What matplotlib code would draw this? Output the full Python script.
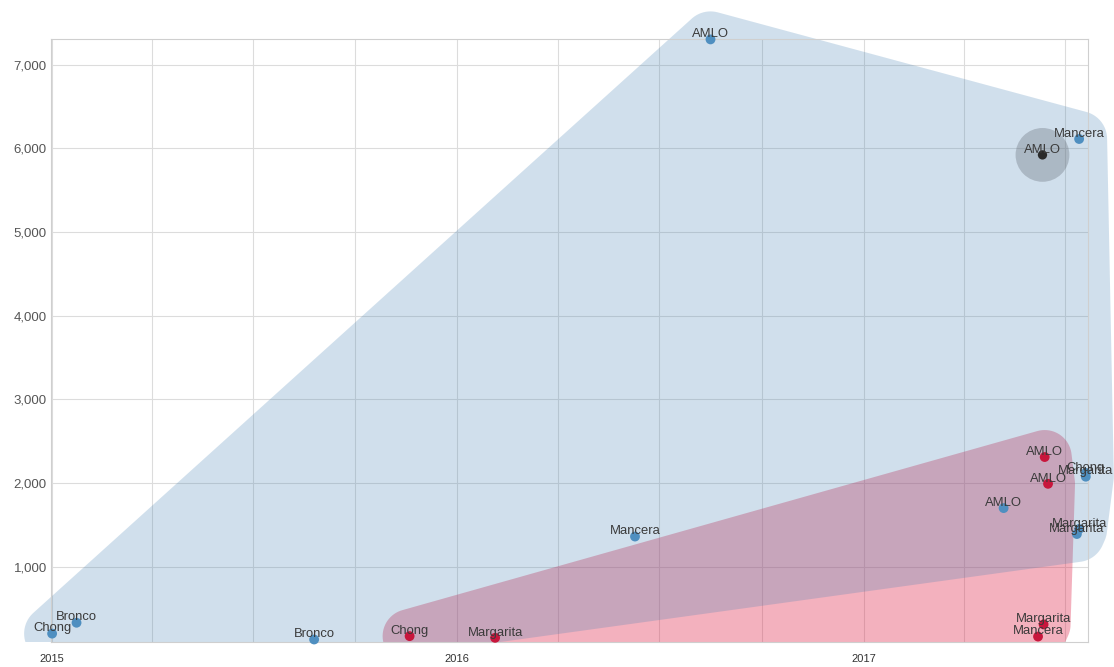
import numpy as np
import matplotlib
matplotlib.use("Agg")
import matplotlib.pyplot as plt
import matplotlib.dates as mdates
from matplotlib.patches import Polygon, Rectangle
from matplotlib.ticker import FuncFormatter, MultipleLocator

# ---------------- data ----------------
blue_names = ["Chong", "Bronco", "Bronco", "Mancera", "AMLO", "AMLO",
              "Chong", "Margarita", "Margarita", "Margarita", "Mancera"]
blue_dates = ["2015-01-01", "2015-01-23", "2015-08-25", "2016-06-09", "2016-08-16",
              "2017-05-07", "2017-07-20", "2017-07-20", "2017-07-14", "2017-07-12",
              "2017-07-14"]
blue_values = [200, 330, 130, 1360, 7300, 1700, 2120, 2075, 1450, 1390, 6110]

red_names = ["Chong", "Margarita", "AMLO", "AMLO", "Margarita", "Mancera"]
red_dates = ["2015-11-19", "2016-02-04", "2017-06-13", "2017-06-16",
             "2017-06-12", "2017-06-07"]
red_values = [170, 150, 2310, 1990, 310, 165]

highlight_name = "AMLO"
highlight_date = "2017-06-11"
highlight_value = 5920

y_ticks = [1000, 2000, 3000, 4000, 5000, 6000, 7000]

# ---------------- figure ----------------
W, H = 1114, 667
fig = plt.figure(figsize=(W / 100, H / 100), dpi=100)
ax_left, ax_right, ax_bottom_px, ax_top_px = 51, 1088, 642, 39.4
ax = fig.add_axes([ax_left / W, (H - ax_bottom_px) / H,
                   (ax_right - ax_left) / W, (ax_bottom_px - ax_top_px) / H])

to_num = lambda ds: mdates.date2num(np.array(ds, dtype="datetime64[D]"))
bx, by = to_num(blue_dates), np.array(blue_values, float)
rx, ry = to_num(red_dates), np.array(red_values, float)
hx = to_num([highlight_date])[0]

ax.set_xlim(to_num(["2014-12-31"])[0], to_num(["2017-07-22"])[0])
ax.set_ylim(100, 7300)

# grid / axes styling
ax.set_axisbelow(True)
ax.xaxis.set_major_locator(mdates.YearLocator())
ax.xaxis.set_major_formatter(mdates.DateFormatter("%Y"))
ax.xaxis.set_minor_locator(mdates.MonthLocator(bymonth=[1, 4, 7, 10]))
ax.set_yticks(y_ticks)
ax.yaxis.set_major_formatter(FuncFormatter(lambda v, p: f"{v:,.0f}"))
ax.grid(True, which="both", color="#dcdcdc", linewidth=0.8)
for s in ax.spines.values():
    s.set_color("#cfcfcf")
    s.set_linewidth(0.8)
ax.tick_params(axis="both", which="both", length=0)
ax.tick_params(axis="y", pad=3, labelsize=9.5, labelcolor="#555555")
ax.tick_params(axis="x", pad=9, labelsize=8, labelcolor="#333333")
for lab in ax.get_xticklabels() + ax.get_yticklabels():
    lab.set_fontfamily("Liberation Sans")


# ---------------- padded convex hulls ----------------
def convex_hull(points):
    pts = sorted(map(tuple, points))
    def cross(o, a, b):
        return (a[0] - o[0]) * (b[1] - o[1]) - (a[1] - o[1]) * (b[0] - o[0])
    lower, upper = [], []
    for p in pts:
        while len(lower) >= 2 and cross(lower[-2], lower[-1], p) <= 0:
            lower.pop()
        lower.append(p)
    for p in reversed(pts):
        while len(upper) >= 2 and cross(upper[-2], upper[-1], p) <= 0:
            upper.pop()
        upper.append(p)
    return np.array(lower[:-1] + upper[:-1])


def padded_hull(xs, ys, r, n=72):
    pts = ax.transData.transform(np.column_stack([xs, ys]))
    ang = np.linspace(0, 2 * np.pi, n, endpoint=False)
    circ = np.column_stack([np.cos(ang), np.sin(ang)]) * r
    allp = (pts[:, None, :] + circ[None, :, :]).reshape(-1, 2)
    hull = convex_hull(allp)
    return ax.transData.inverted().transform(hull)


clip_rect = Rectangle((0, (H - ax_bottom_px) / H), 1, 1, transform=fig.transFigure)

red_hull = Polygon(padded_hull(rx, ry, 27), closed=True, facecolor=(220/255, 20/255, 60/255),
                   alpha=0.33, edgecolor="none", zorder=1)
ax.add_patch(red_hull)
red_hull.set_clip_path(clip_rect)

blue_hull = Polygon(padded_hull(bx, by, 28), closed=True, facecolor="steelblue",
                    alpha=0.25, edgecolor="none", zorder=1.1)
ax.add_patch(blue_hull)
blue_hull.set_clip_path(clip_rect)

# ---------------- points ----------------
ax.scatter(bx, by, s=50, color="#4f8fc0", edgecolors="none", zorder=3, clip_on=False)
ax.scatter(rx, ry, s=50, color="#c8163c", edgecolors="none", zorder=3, clip_on=False)
ax.scatter([hx], [highlight_value], s=1500, color="#5f6670", alpha=0.32,
           edgecolors="none", zorder=3)
ax.scatter([hx], [highlight_value], s=45, color="#2a2a2a", edgecolors="none", zorder=3.5)

# ---------------- labels ----------------
def label(x, y, t):
    ax.annotate(t, (x, y), xytext=(0, 3.8), textcoords="offset points",
                ha="center", va="center", fontsize=9.4, color="#3a3a3a",
                family="Liberation Sans", zorder=5, annotation_clip=False)

for x, y, t in zip(bx, by, blue_names):
    label(x, y, t)
for x, y, t in zip(rx, ry, red_names):
    label(x, y, t)
label(hx, highlight_value, highlight_name)

fig.savefig("out.png", dpi=100)
